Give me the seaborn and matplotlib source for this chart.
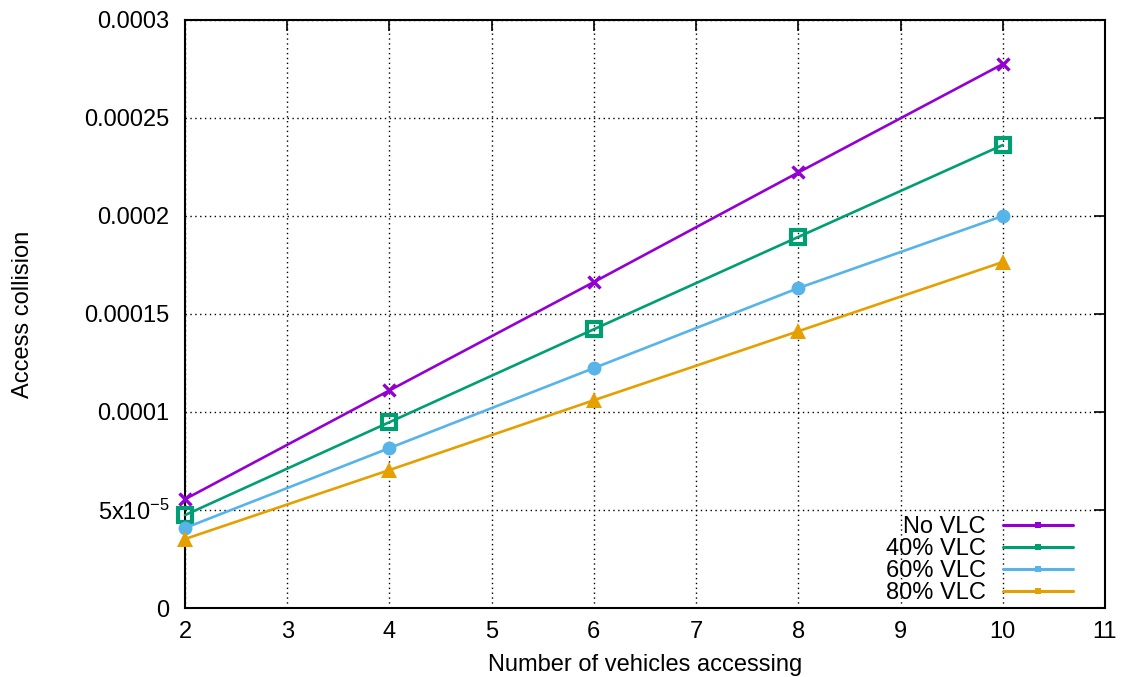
"""
Access collision vs. number of vehicles accessing, for several VLC shares.
"""

import numpy as np
import pandas as pd
import matplotlib
matplotlib.use("Agg")
import matplotlib.pyplot as plt
from matplotlib.lines import Line2D
import seaborn as sns

# -----------------------------
# Data
# -----------------------------

VEHICLES = [2, 4, 6, 8, 10]
NO_VLC = [5.55e-5, 1.11e-4, 1.663e-4, 2.222e-4, 2.775e-4]
VLC_40 = [4.74e-5, 9.48e-5, 1.422e-4, 1.893e-4, 2.362e-4]
VLC_60 = [4.08e-5, 8.16e-5, 1.224e-4, 1.632e-4, 2.0e-4]
VLC_80 = [3.52e-5, 7.04e-5, 1.060e-4, 1.412e-4, 1.765e-4]

SERIES = ["No VLC", "40% VLC", "60% VLC", "80% VLC"]
COLORS = ["#9400d3", "#009e73", "#56b4e9", "#e69f00"]

X_TICKS = [2, 3, 4, 5, 6, 7, 8, 9, 10, 11]
Y_TICKS = [0, 5e-5, 1e-4, 1.5e-4, 2e-4, 2.5e-4, 3e-4]
Y_TICK_LABELS = ["0", r"5x10$^{-5}$", "0.0001", "0.00015", "0.0002", "0.00025", "0.0003"]

# -----------------------------
# Style
# -----------------------------

sns.set_style("white")
plt.rcParams["font.family"] = ["Liberation Sans", "DejaVu Sans"]
plt.rcParams["mathtext.fontset"] = "custom"
plt.rcParams["mathtext.rm"] = "Liberation Sans"
plt.rcParams["mathtext.it"] = "Liberation Sans"
plt.rcParams["text.color"] = "black"
plt.rcParams["axes.labelcolor"] = "black"

df = pd.DataFrame({
    "vehicles": VEHICLES * 4,
    "collision": NO_VLC + VLC_40 + VLC_60 + VLC_80,
    "series": np.repeat(SERIES, len(VEHICLES)),
})

marker_style = {
    "No VLC": dict(marker="x", markersize=9, markeredgewidth=2.4),
    "40% VLC": dict(marker="s", markersize=10, markeredgewidth=3.0, markerfacecolor="none"),
    "60% VLC": dict(marker="o", markersize=10, markeredgewidth=0),
    "80% VLC": dict(marker="^", markersize=11, markeredgewidth=0),
}

fig = plt.figure(figsize=(11.25, 6.77), dpi=100)
ax = fig.add_axes([0.1644, 0.1019, 0.8178, 0.8686])

for name, color in zip(SERIES, COLORS):
    sub = df[df["series"] == name]
    sns.lineplot(data=sub, x="vehicles", y="collision", color=color,
                 linewidth=1.9, ax=ax, legend=False, clip_on=False, zorder=3,
                 markeredgecolor=color, **marker_style[name])

ax.set_xlim(2, 11)
ax.set_ylim(0, 3e-4)
ax.set_xticks(X_TICKS)
ax.set_yticks(Y_TICKS)
ax.set_yticklabels(Y_TICK_LABELS)
ax.tick_params(axis="both", direction="in", length=8, width=1.2,
               top=True, right=True, labelsize=17, colors="black")
ax.tick_params(axis="y", pad=11)
ax.tick_params(axis="x", pad=9)
ax.grid(True, color="black", linestyle=(0, (1, 2.5)), linewidth=1.0)

for spine in ax.spines.values():
    spine.set_color("black")
    spine.set_linewidth(1.5)

ax.set_xlabel("Number of vehicles accessing", fontsize=17, labelpad=8)
ax.set_ylabel("Access collision", fontsize=17, labelpad=36)

handles = [
    Line2D([], [], color=c, linewidth=2.2, marker="s", markersize=5, markeredgewidth=0)
    for c in COLORS
]
ax.legend(handles, SERIES, loc="lower right", frameon=False, markerfirst=False,
          fontsize=17, handlelength=3.0, labelspacing=0.0, handletextpad=0.72,
          borderaxespad=0.0, bbox_to_anchor=(0.976, -0.009))

fig.savefig("out.png", dpi=100)
